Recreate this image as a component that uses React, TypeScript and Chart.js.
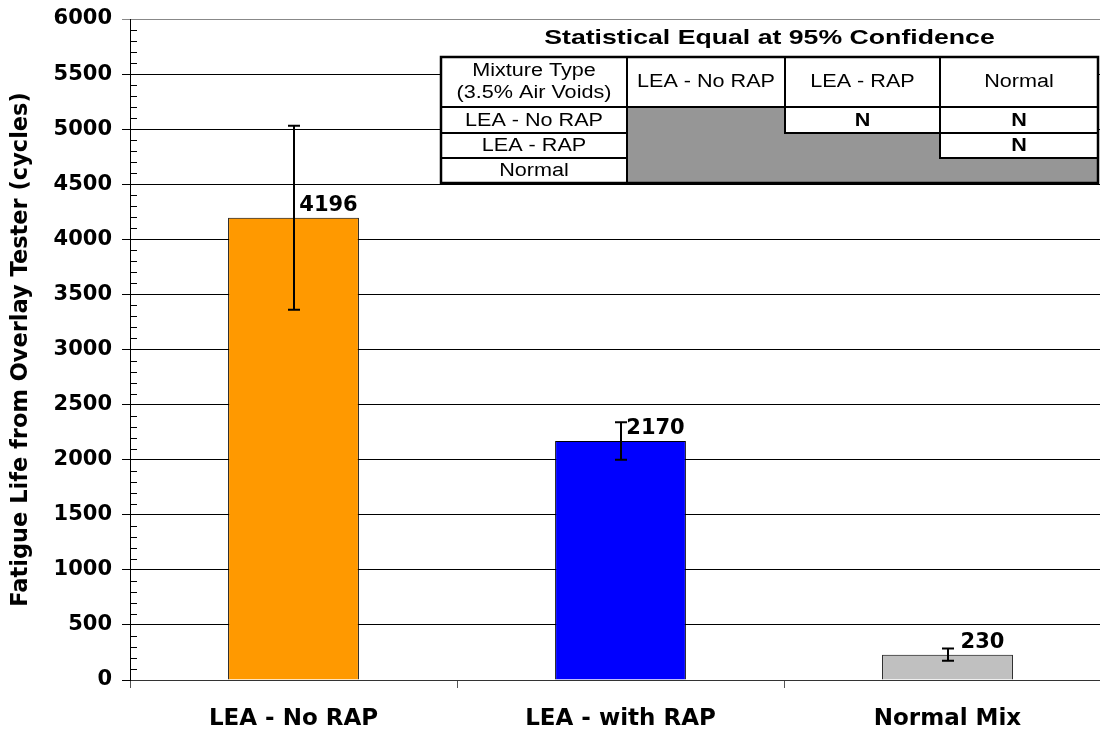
import React, { useEffect, useRef } from "react";
import { Chart, registerables } from "chart.js";

Chart.register(...registerables);

const categories = ["LEA - No RAP", "LEA - with RAP", "Normal Mix"];
const fatigueLife = [4196, 2170, 230];
const errorAmounts = [835, 170, 55];
const barColors = ["#FF9900", "#0000FF", "#C0C0C0"];
const yAxisTitle = "Fatigue Life from Overlay Tester (cycles)";
const yMin = 0;
const yMax = 6000;
const yStep = 500;
const yMinorStep = 100;

const tableTitle = "Statistical Equal at 95% Confidence";
const tableHeaderFirst = ["Mixture Type", "(3.5% Air Voids)"];
const tableHeader = ["LEA - No RAP", "LEA - RAP", "Normal"];
const tableRowLabels = ["LEA - No RAP", "LEA - RAP", "Normal"];
// null = shaded (grey) cell
const tableCells: (string | null)[][] = [
  [null, "N", "N"],
  [null, null, "N"],
  [null, null, null],
];

const AXIS_FONT = "'DejaVu Sans', sans-serif";
const TABLE_FONT = "'Liberation Sans', Arial, sans-serif";

function drawStretchedText(
  ctx: CanvasRenderingContext2D,
  text: string,
  cx: number,
  cy: number,
  font: string,
  sx: number
) {
  ctx.save();
  ctx.font = font;
  ctx.textAlign = "center";
  ctx.textBaseline = "middle";
  ctx.fillStyle = "#000";
  ctx.translate(cx, cy);
  ctx.scale(sx, 1);
  ctx.fillText(text, 0, 0);
  ctx.restore();
}

const overlayPlugin = {
  id: "overlayPlugin",
  afterDatasetsDraw(chart: any) {
    const ctx: CanvasRenderingContext2D = chart.ctx;
    const yScale = chart.scales.y;
    const area = chart.chartArea;
    ctx.save();
    ctx.strokeStyle = "#000";
    ctx.lineWidth = 1;
    for (let v = yMin + yMinorStep; v < yMax; v += yMinorStep) {
      if (v % yStep === 0) continue;
      const y = Math.round(yScale.getPixelForValue(v)) + 0.5;
      ctx.beginPath();
      ctx.moveTo(area.left, y);
      ctx.lineTo(area.left + 7, y);
      ctx.stroke();
    }
    ctx.restore();

    const meta = chart.getDatasetMeta(0);
    meta.data.forEach((el: any, i: number) => {
      const x = Math.round(el.x);
      const yTop = yScale.getPixelForValue(fatigueLife[i] + errorAmounts[i]);
      const yBot = yScale.getPixelForValue(fatigueLife[i] - errorAmounts[i]);
      ctx.save();
      ctx.strokeStyle = "#000";
      ctx.lineWidth = 2;
      ctx.beginPath();
      ctx.moveTo(x, yTop);
      ctx.lineTo(x, yBot);
      ctx.moveTo(x - 6, yTop);
      ctx.lineTo(x + 6, yTop);
      ctx.moveTo(x - 6, yBot);
      ctx.lineTo(x + 6, yBot);
      ctx.stroke();
      ctx.font = `bold 21px ${AXIS_FONT}`;
      ctx.fillStyle = "#000";
      ctx.textAlign = "center";
      ctx.textBaseline = "alphabetic";
      ctx.fillText(String(fatigueLife[i]), el.x + 35, el.y - 7);
      ctx.restore();
    });
  },
  afterDraw(chart: any) {
    const ctx: CanvasRenderingContext2D = chart.ctx;
    const colX = [441, 627, 785, 940, 1098];
    const rowY = [57, 107, 133, 158, 183];
    const sx = 1.2;
    ctx.save();
    drawStretchedText(ctx, tableTitle, (colX[0] + colX[4]) / 2, 38, `bold 21px ${TABLE_FONT}`, 1.27);
    ctx.fillStyle = "#fff";
    ctx.fillRect(colX[0], rowY[0], colX[4] - colX[0], rowY[4] - rowY[0]);
    for (let r = 0; r < tableCells.length; r++) {
      for (let c = 0; c < tableCells[r].length; c++) {
        if (tableCells[r][c] === null) {
          ctx.fillStyle = "#969696";
          ctx.fillRect(colX[c + 1], rowY[r + 1], colX[c + 2] - colX[c + 1], rowY[r + 2] - rowY[r + 1]);
        }
      }
    }
    ctx.strokeStyle = "#000";
    ctx.lineWidth = 2;
    const cellRect = (x0: number, y0: number, x1: number, y1: number) => {
      ctx.strokeRect(x0, y0, x1 - x0, y1 - y0);
    };
    for (let c = 0; c < 4; c++) cellRect(colX[c], rowY[0], colX[c + 1], rowY[1]);
    for (let r = 0; r < 3; r++) cellRect(colX[0], rowY[r + 1], colX[1], rowY[r + 2]);
    for (let r = 0; r < tableCells.length; r++) {
      for (let c = 0; c < tableCells[r].length; c++) {
        if (tableCells[r][c] !== null) {
          cellRect(colX[c + 1], rowY[r + 1], colX[c + 2], rowY[r + 2]);
        }
      }
    }
    ctx.lineWidth = 2.5;
    cellRect(colX[0], rowY[0], colX[4], rowY[4]);
    const reg = `18px ${TABLE_FONT}`;
    const bold = `bold 18px ${TABLE_FONT}`;
    drawStretchedText(ctx, tableHeaderFirst[0], (colX[0] + colX[1]) / 2, rowY[0] + 14, reg, sx);
    drawStretchedText(ctx, tableHeaderFirst[1], (colX[0] + colX[1]) / 2, rowY[0] + 36, reg, sx);
    for (let c = 0; c < 3; c++) {
      drawStretchedText(ctx, tableHeader[c], (colX[c + 1] + colX[c + 2]) / 2, (rowY[0] + rowY[1]) / 2, reg, sx);
    }
    for (let r = 0; r < 3; r++) {
      const cy = (rowY[r + 1] + rowY[r + 2]) / 2 + 1;
      drawStretchedText(ctx, tableRowLabels[r], (colX[0] + colX[1]) / 2, cy, reg, sx);
      for (let c = 0; c < 3; c++) {
        const v = tableCells[r][c];
        if (v) drawStretchedText(ctx, v, (colX[c + 1] + colX[c + 2]) / 2, cy, bold, sx);
      }
    }
    ctx.restore();
  },
};

export default function App() {
  const canvasRef = useRef<HTMLCanvasElement | null>(null);

  useEffect(() => {
    if (!canvasRef.current) return;
    const chart = new Chart(canvasRef.current, {
      type: "bar",
      data: {
        labels: categories,
        datasets: [
          {
            data: fatigueLife,
            backgroundColor: barColors,
            borderColor: "#000",
            borderWidth: 1,
            barPercentage: 0.4,
            categoryPercentage: 1,
          },
        ],
      },
      options: {
        animation: false,
        responsive: false,
        devicePixelRatio: 1,
        layout: { padding: { top: 19, left: 0, right: 0, bottom: 0 } },
        plugins: {
          legend: { display: false },
          tooltip: { enabled: false },
          title: { display: false },
        },
        scales: {
          x: {
            afterFit(scale: any) {
              scale.height = 53;
              scale.paddingLeft = 0;
              scale.paddingRight = 0;
            },
            grid: {
              offset: true,
              drawOnChartArea: false,
              drawTicks: true,
              tickLength: 8,
              color: "#555",
            },
            border: { display: true, color: "#333", width: 1 },
            ticks: {
              color: "#000",
              font: { family: AXIS_FONT, size: 23, weight: "bold" },
              padding: 17,
            },
          },
          y: {
            min: yMin,
            max: yMax,
            afterFit(scale: any) {
              scale.width = 130;
              scale.paddingTop = 0;
              scale.paddingBottom = 0;
            },
            ticks: {
              stepSize: yStep,
              color: "#000",
              padding: 10,
              font: { family: AXIS_FONT, size: 21, weight: "bold" },
              callback: (v: any) => String(v),
            },
            grid: {
              color: (ctx: any) => (ctx.tick && ctx.tick.value === yMax ? "#888" : "#000"),
              lineWidth: 1,
              tickLength: 8,
            },
            border: { display: true, color: "#000", width: 1 },
            title: {
              display: true,
              text: yAxisTitle,
              color: "#000",
              font: { family: AXIS_FONT, size: 22.5, weight: "bold" },
              padding: { top: 8, bottom: 0 },
            },
          },
        },
      },
      plugins: [overlayPlugin],
    });
    return () => chart.destroy();
  }, []);

  return (
    <div
      style={{
        position: "absolute",
        left: 0,
        top: 0,
        width: 1100,
        height: 733,
        overflow: "hidden",
        background: "#fff",
      }}
    >
      <canvas ref={canvasRef} width={1111} height={733} style={{ display: "block" }} />
    </div>
  );
}
